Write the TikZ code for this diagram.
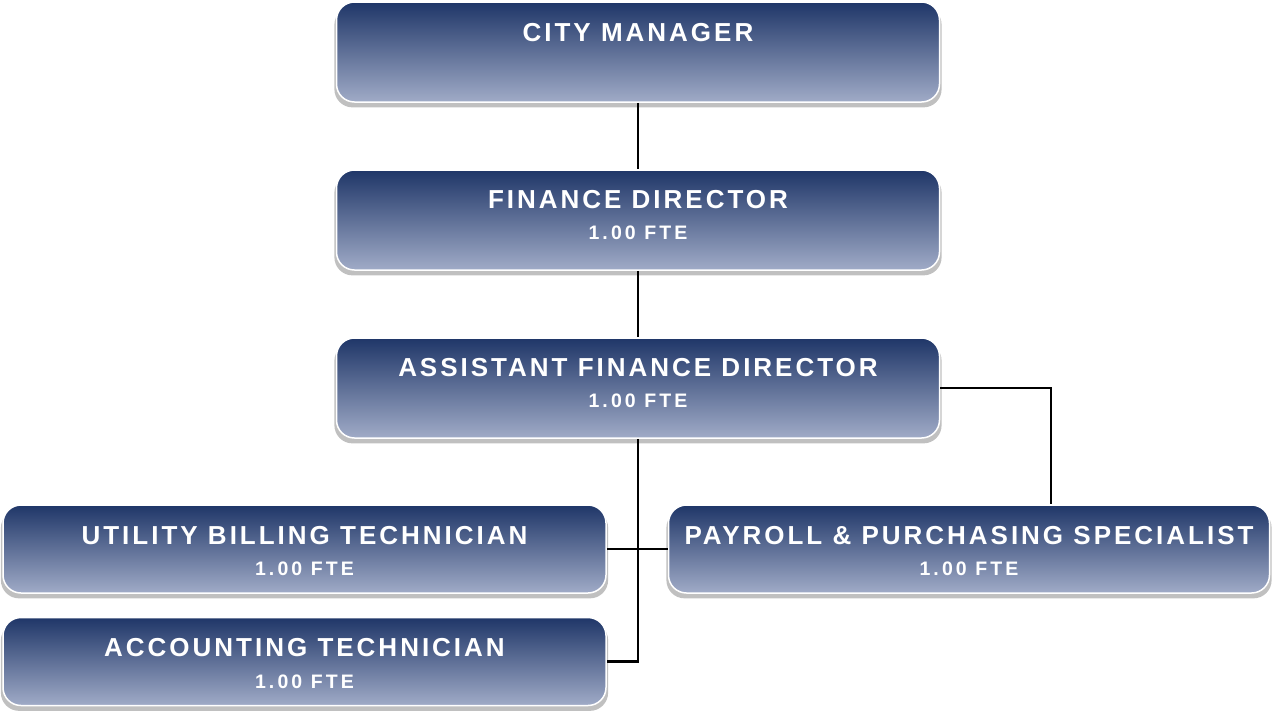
\documentclass[tikz,border=0pt]{standalone}
\usepackage{fontspec}
\setmainfont{Liberation Sans}
\newfontfamily\headfont[LetterSpace=11.5]{Liberation Sans}
\newfontfamily\subfont[LetterSpace=16]{Liberation Sans}
\usetikzlibrary{shadows}
\definecolor{boxtop}{RGB}{31,54,104}
\definecolor{boxbot}{RGB}{160,171,199}
\definecolor{boxshade}{RGB}{192,192,192}

\begin{document}
\begin{tikzpicture}[x=1pt,y=1pt,
  orgbox/.style={draw=white, line width=1.5pt, rounded corners=18pt,
    top color=boxtop, bottom color=boxbot, inner sep=0pt,
    drop shadow={shadow xshift=0pt, shadow yshift=-5pt, shadow scale=1.007,
      fill=boxshade, opacity=1}},
  headtxt/.style={text=white, inner sep=0pt,
    font=\headfont\bfseries\fontsize{26}{29}\selectfont},
  subtxt/.style={text=white, inner sep=0pt,
    font=\subfont\bfseries\fontsize{19.5}{22}\selectfont},
  link/.style={draw=black, line width=2.5pt}]
  \useasboundingbox (0,0) rectangle (1274,-713);
  % upper chain
  \foreach \n/\y in {cm/52, fd/220, afd/388}
    \node[orgbox, minimum width=603pt, minimum height=100pt] (\n) at (638,-\y) {};
  \node[headtxt] (cmT) at ([yshift=-31pt]cm.north) {CITY MANAGER};
  \node[headtxt] (fdT) at ([yshift=-30pt]fd.north) {FINANCE DIRECTOR};
  \node[subtxt] (fdS) at ([yshift=-64pt]fd.north) {1.00 FTE};
  \node[headtxt] (afdT) at ([yshift=-30pt]afd.north) {ASSISTANT FINANCE DIRECTOR};
  \node[subtxt] (afdS) at ([yshift=-64pt]afd.north) {1.00 FTE};
  % staff
  \node[orgbox, minimum width=603pt, minimum height=88pt] (util) at (304.5,-549) {};
  \node[orgbox, minimum width=603pt, minimum height=88pt] (acct) at (304.5,-661.5) {};
  \node[orgbox, minimum width=601pt, minimum height=88pt] (pay) at (969,-549) {};
  \node[headtxt] (utilT) at ([yshift=-31pt]util.north) {UTILITY BILLING TECHNICIAN};
  \node[subtxt] (utilS) at ([yshift=-65pt]util.north) {1.00 FTE};
  \node[headtxt] (acctT) at ([yshift=-31pt]acct.north) {ACCOUNTING TECHNICIAN};
  \node[subtxt] (acctS) at ([yshift=-65pt]acct.north) {1.00 FTE};
  \node[headtxt] (payT) at ([yshift=-31pt]pay.north) {PAYROLL \& PURCHASING SPECIALIST};
  \node[subtxt] (payS) at ([yshift=-65pt]pay.north) {1.00 FTE};
  % links
  \coordinate (payin) at ([xshift=82pt]pay.north);
  \draw[link] (cm) -- (fd);
  \draw[link] (fd) -- (afd);
  \draw[link] (afd.south) |- (acct.east);
  \draw[link] (util.east) -- (pay.west);
  \draw[link] (afd.east) -| (payin);
\end{tikzpicture}
\end{document}
